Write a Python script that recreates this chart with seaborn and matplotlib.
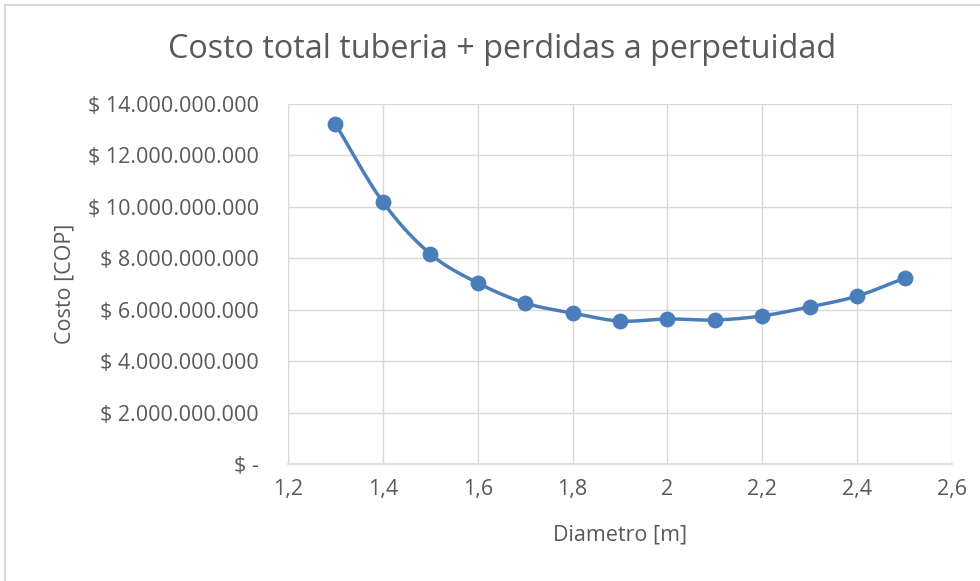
import numpy as np
import pandas as pd
import matplotlib
matplotlib.use("Agg")
import matplotlib.pyplot as plt
import seaborn as sns
from matplotlib.ticker import FuncFormatter, MultipleLocator
from matplotlib.patches import Rectangle

# data
diametro = [1.3, 1.4, 1.5, 1.6, 1.7, 1.8, 1.9, 2.0, 2.1, 2.2, 2.3, 2.4, 2.5]
costo = [13.22e9, 10.19e9, 8.17e9, 7.04e9, 6.26e9, 5.87e9, 5.56e9,
         5.64e9, 5.60e9, 5.76e9, 6.11e9, 6.53e9, 7.23e9]

df = pd.DataFrame({"diametro": diametro, "costo": costo})

sns.set_theme(style="white")
plt.rcParams["font.family"] = ["Open Sans", "DejaVu Sans"]
txt = "#595959"
blue = "#4A7EBB"


def smooth(x, y, n=30):
    # Catmull-Rom curve through the points (Excel "smoothed line" look)
    x = np.asarray(x, float)
    y = np.asarray(y, float)
    px = np.concatenate([[2 * x[0] - x[1]], x, [2 * x[-1] - x[-2]]])
    py = np.concatenate([[2 * y[0] - y[1]], y, [2 * y[-1] - y[-2]]])
    xs, ys = [], []
    t = np.linspace(0, 1, n)
    for i in range(1, len(px) - 2):
        for p, out in ((px, xs), (py, ys)):
            p0, p1, p2, p3 = p[i - 1], p[i], p[i + 1], p[i + 2]
            out.append(0.5 * (2 * p1 + (-p0 + p2) * t
                              + (2 * p0 - 5 * p1 + 4 * p2 - p3) * t ** 2
                              + (-p0 + 3 * p1 - 3 * p2 + p3) * t ** 3))
    return np.concatenate(xs), np.concatenate(ys)


sx, sy = smooth(df["diametro"], df["costo"])
curve = pd.DataFrame({"diametro": sx, "costo": sy})

fig = plt.figure(figsize=(9.8, 5.81), dpi=100)
ax = fig.add_axes([288 / 980, 1 - 464 / 581, (952 - 288) / 980, (464 - 104) / 581])

sns.lineplot(data=curve, x="diametro", y="costo", ax=ax, color=blue,
             linewidth=2.5, sort=False, estimator=None)
sns.scatterplot(data=df, x="diametro", y="costo", ax=ax, color=blue,
                s=130, edgecolor=blue, linewidth=0, zorder=3)

ax.set_xlim(1.2, 2.6)
ax.set_ylim(0, 14e9)
ax.xaxis.set_major_locator(MultipleLocator(0.2))
ax.yaxis.set_major_locator(MultipleLocator(2e9))


def money(v, pos):
    if abs(v) < 1:
        return "$ -"
    return "$ " + f"{v:,.0f}".replace(",", ".")


ax.yaxis.set_major_formatter(FuncFormatter(money))
ax.xaxis.set_major_formatter(FuncFormatter(lambda v, p: f"{v:.1f}".rstrip("0").rstrip(".").replace(".", ",")))

ax.grid(True, color="#D9D9D9", linewidth=1)
ax.set_axisbelow(True)
for s in ["top", "right", "left"]:
    ax.spines[s].set_visible(False)
ax.spines["bottom"].set_color("#D9D9D9")
ax.tick_params(length=0, labelsize=15.5, colors=txt)
ax.tick_params(axis="y", pad=21)
ax.tick_params(axis="x", pad=11)

ax.set_xlabel("Diametro [m]", fontsize=15.5, color=txt)
ax.set_ylabel("Costo [COP]", fontsize=15.5, color=txt)
ax.xaxis.set_label_coords((620 - 288) / 664, -(524 - 464) / 360)
ax.yaxis.set_label_coords(-(288 - 76) / 664, (464 - 284) / 360)
fig.text(0.512, 1 - 50 / 581, "Costo total tuberia + perdidas a perpetuidad",
         ha="center", va="center", fontsize=23.3, color=txt)

# chart border
fig.patches.append(Rectangle((5 / 980, -0.1), 1.2, 1 - 5 / 581 + 0.1,
                             transform=fig.transFigure, fill=False,
                             edgecolor="#D9D9D9", linewidth=1.5))

fig.savefig("out.png", dpi=100)
